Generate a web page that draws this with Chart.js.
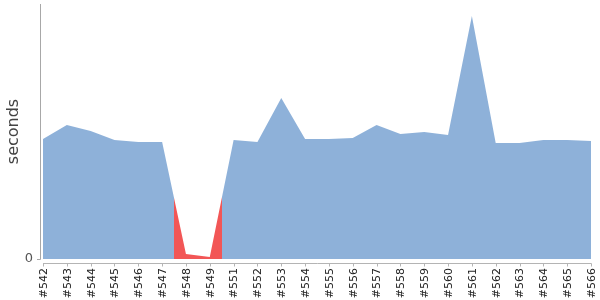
<!DOCTYPE html>
<html>
<head>
<meta charset="utf-8">
<script src="https://cdn.jsdelivr.net/npm/chart.js@4"></script>
<style>
html,body{margin:0;padding:0;background:#fff;}
#wrap{width:600px;height:300px;position:relative;}
</style>
</head>
<body>
<div id="wrap"><canvas id="c" width="600" height="300"></canvas></div>
<script>
// Build numbers (categories)
const builds = ['#542','#543','#544','#545','#546','#547','#548','#549','#551','#552','#553','#554','#555','#556','#557','#558','#559','#560','#561','#562','#563','#564','#565','#566'];
// Build durations (estimated, relative units)
const durations = [120,134,128,119,117,117,5,2,119,117,161,120,120,121,134,125,127,124,243,116,116,119,119,118];
// Build result for each build
const results = ['ok','ok','ok','ok','ok','ok','fail','fail','ok','ok','ok','ok','ok','ok','ok','ok','ok','ok','ok','ok','ok','ok','ok','ok'];
const yMax = 255;
const yTicks = [0];

const COLORS = {ok:'#8EB1D9', fail:'#F25656'};

function areaFill(context){
  const chart = context.chart;
  const a = chart.chartArea;
  const x = chart.scales.x;
  if(!a || !x) return COLORS.ok;
  const g = chart.ctx.createLinearGradient(a.left,0,a.right,0);
  const w = a.right - a.left;
  const frac = p => Math.min(1, Math.max(0, (p - a.left)/w));
  g.addColorStop(0, COLORS[results[0]]);
  for(let i=0;i<results.length-1;i++){
    if(results[i]!==results[i+1]){
      const mid = (x.getPixelForValue(i)+x.getPixelForValue(i+1))/2;
      const f = frac(mid);
      g.addColorStop(f, COLORS[results[i]]);
      g.addColorStop(f, COLORS[results[i+1]]);
    }
  }
  g.addColorStop(1, COLORS[results[results.length-1]]);
  return g;
}

const axisLines = {
  id:'axisLines',
  afterDraw(chart){
    const {ctx, chartArea:a, scales:{x,y}} = chart;
    const y0 = Math.round(y.getPixelForValue(0));
    ctx.save();
    ctx.lineWidth = 1;
    // y axis
    ctx.strokeStyle = '#a8a8a8';
    ctx.beginPath();
    ctx.moveTo(a.left-2.5, a.top);
    ctx.lineTo(a.left-2.5, y0+0.5);
    ctx.moveTo(a.left-6, y0+0.5);
    ctx.lineTo(a.left-2.5, y0+0.5);
    ctx.stroke();
    // x axis
    ctx.strokeStyle = '#b4b4b4';
    ctx.beginPath();
    const xa = y0 + 4.5;
    ctx.moveTo(a.left, xa);
    ctx.lineTo(a.right+0.5, xa);
    for(let i=0;i<builds.length;i++){
      const px = Math.round(x.getPixelForTick(i))+0.5;
      ctx.moveTo(px, xa);
      ctx.lineTo(px, xa+3);
    }
    ctx.stroke();
    ctx.restore();
  }
};

new Chart(document.getElementById('c'), {
  type:'line',
  data:{
    labels: builds,
    datasets:[{
      data: durations,
      fill: 'origin',
      backgroundColor: areaFill,
      borderWidth: 0,
      borderColor: 'rgba(0,0,0,0)',
      pointRadius: 0,
      tension: 0
    }]
  },
  options:{
    responsive:false,
    animation:false,
    devicePixelRatio:1,
    layout:{padding:{top:4,right:9,bottom:0,left:0}},
    plugins:{legend:{display:false},tooltip:{enabled:false}},
    scales:{
      x:{
        offset:false,
        grid:{display:false, drawTicks:false, tickLength:0},
        border:{display:false},
        ticks:{
          autoSkip:false, minRotation:90, maxRotation:90,
          padding:9, labelOffset:1,
          color:'#222',
          font:{family:'DejaVu Sans', size:11}
        },
        afterFit(s){ s.height = 41; s.paddingLeft = 0; s.paddingRight = 0; }
      },
      y:{
        min:0, max:yMax,
        grid:{display:false, drawTicks:false, tickLength:0},
        border:{display:false},
        afterBuildTicks(s){ s.ticks = yTicks.map(v=>({value:v})); },
        ticks:{
          padding:10,
          color:'#555',
          font:{family:'DejaVu Sans', size:13}
        },
        title:{
          display:true, text:'seconds', color:'#444',
          font:{family:'DejaVu Sans', size:16},
          padding:{top:4,bottom:0}
        },
        afterFit(s){ s.width = 43; s.paddingTop = 0; s.paddingBottom = 0; }
      }
    }
  },
  plugins:[axisLines]
});
</script>
</body>
</html>
